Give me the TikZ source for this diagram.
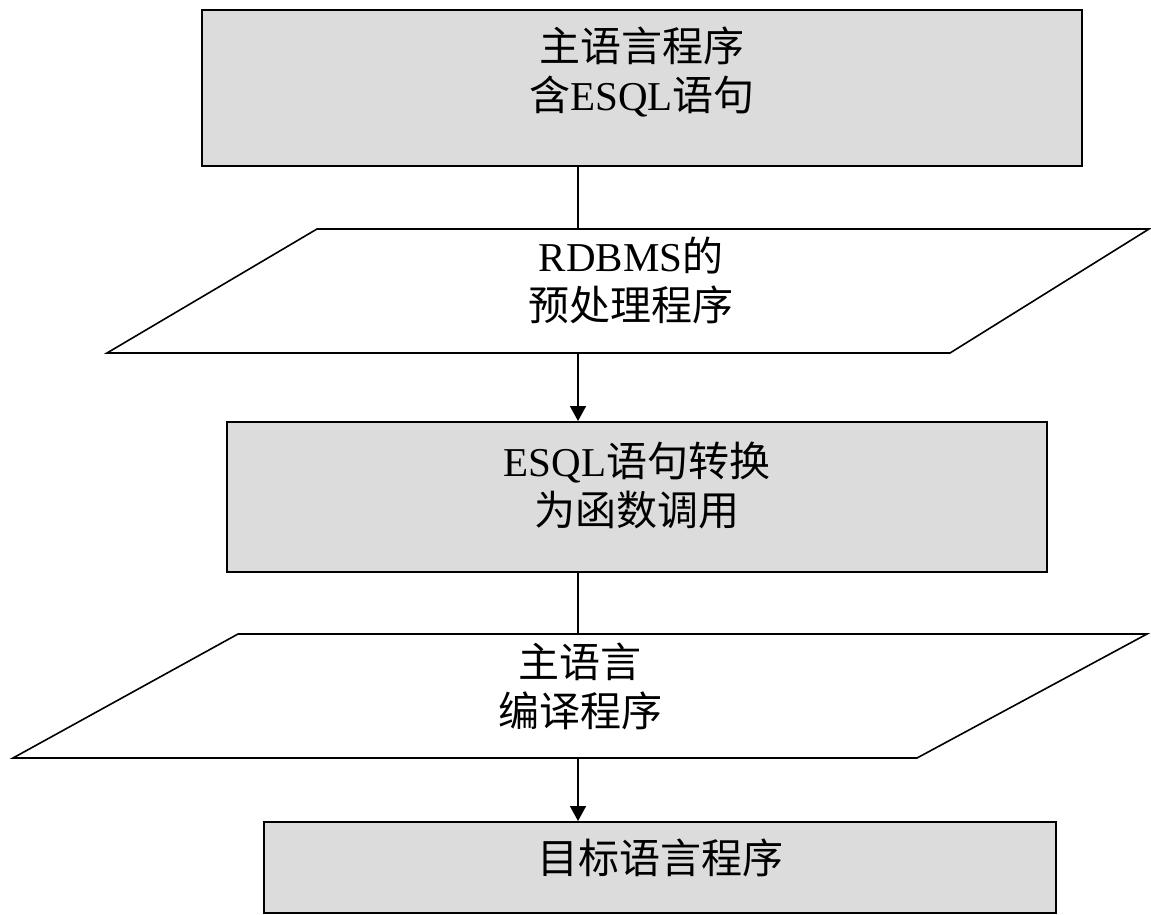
\documentclass[tikz,border=0pt]{standalone}
\usepackage{fontspec}
\setmainfont{Liberation Serif}
\newfontfamily\cjk{Noto Sans CJK SC}
\usepackage{tikz}
\usetikzlibrary{arrows.meta}
\definecolor{boxgray}{RGB}{220,220,220}

\begin{document}
\begin{tikzpicture}[x=1pt,y=1pt,yscale=-1,xscale=1,
  box/.style={draw,line width=2pt,fill=boxgray,inner sep=0pt},
  para/.style={draw,line width=1.6pt,fill=white},
  lbl/.style={align=center,inner sep=0pt,font=\fontsize{41}{49}\selectfont},
  link/.style={line width=1.6pt},
  flow/.style={line width=1.6pt,-{Triangle[length=15pt,width=16pt]}}]
\useasboundingbox (0,0) rectangle (1151,915);

%Boxes
\node[box,minimum width=880pt,minimum height=156pt] (srcbox) at (642,88) {};
\node[box,minimum width=820pt,minimum height=150pt] (convbox) at (637,497) {};
\node[box,minimum width=792pt,minimum height=91pt] (objbox) at (660,867.5) {};

%Parallelograms
\draw[para] (317,229) -- (1149,229) -- (950,353) -- (107,353) -- cycle;
\draw[para] (238,634) -- (1147,634) -- (917,758) -- (13,758) -- cycle;
\coordinate (pre in) at (578,229);
\coordinate (pre out) at (578,353);
\coordinate (comp in) at (578,634);
\coordinate (comp out) at (578,758);

%Connectors
\draw[link] (srcbox.south -| pre in) -- (pre in);
\draw[flow] (pre out) -- (convbox.north -| pre out);
\draw[link] (convbox.south -| comp in) -- (comp in);
\draw[flow] (comp out) -- (objbox.north -| comp out);

% Text Node
\node[lbl] (srctxt) at (642,72) {{\cjk 主语言程序}\\{\cjk 含}ESQL{\cjk 语句}};
% Text Node
\node[lbl] (pretxt) at (631,280) {RDBMS{\cjk 的}\\{\cjk 预处理程序}};
% Text Node
\node[lbl] (convtxt) at (637,485) {ESQL{\cjk 语句转换}\\{\cjk 为函数调用}};
% Text Node
\node[lbl] (comptxt) at (580,686) {{\cjk 主语言}\\{\cjk 编译程序}};
% Text Node
\node[lbl] (objtxt) at (660,858) {{\cjk 目标语言程序}};
\end{tikzpicture}
\end{document}
